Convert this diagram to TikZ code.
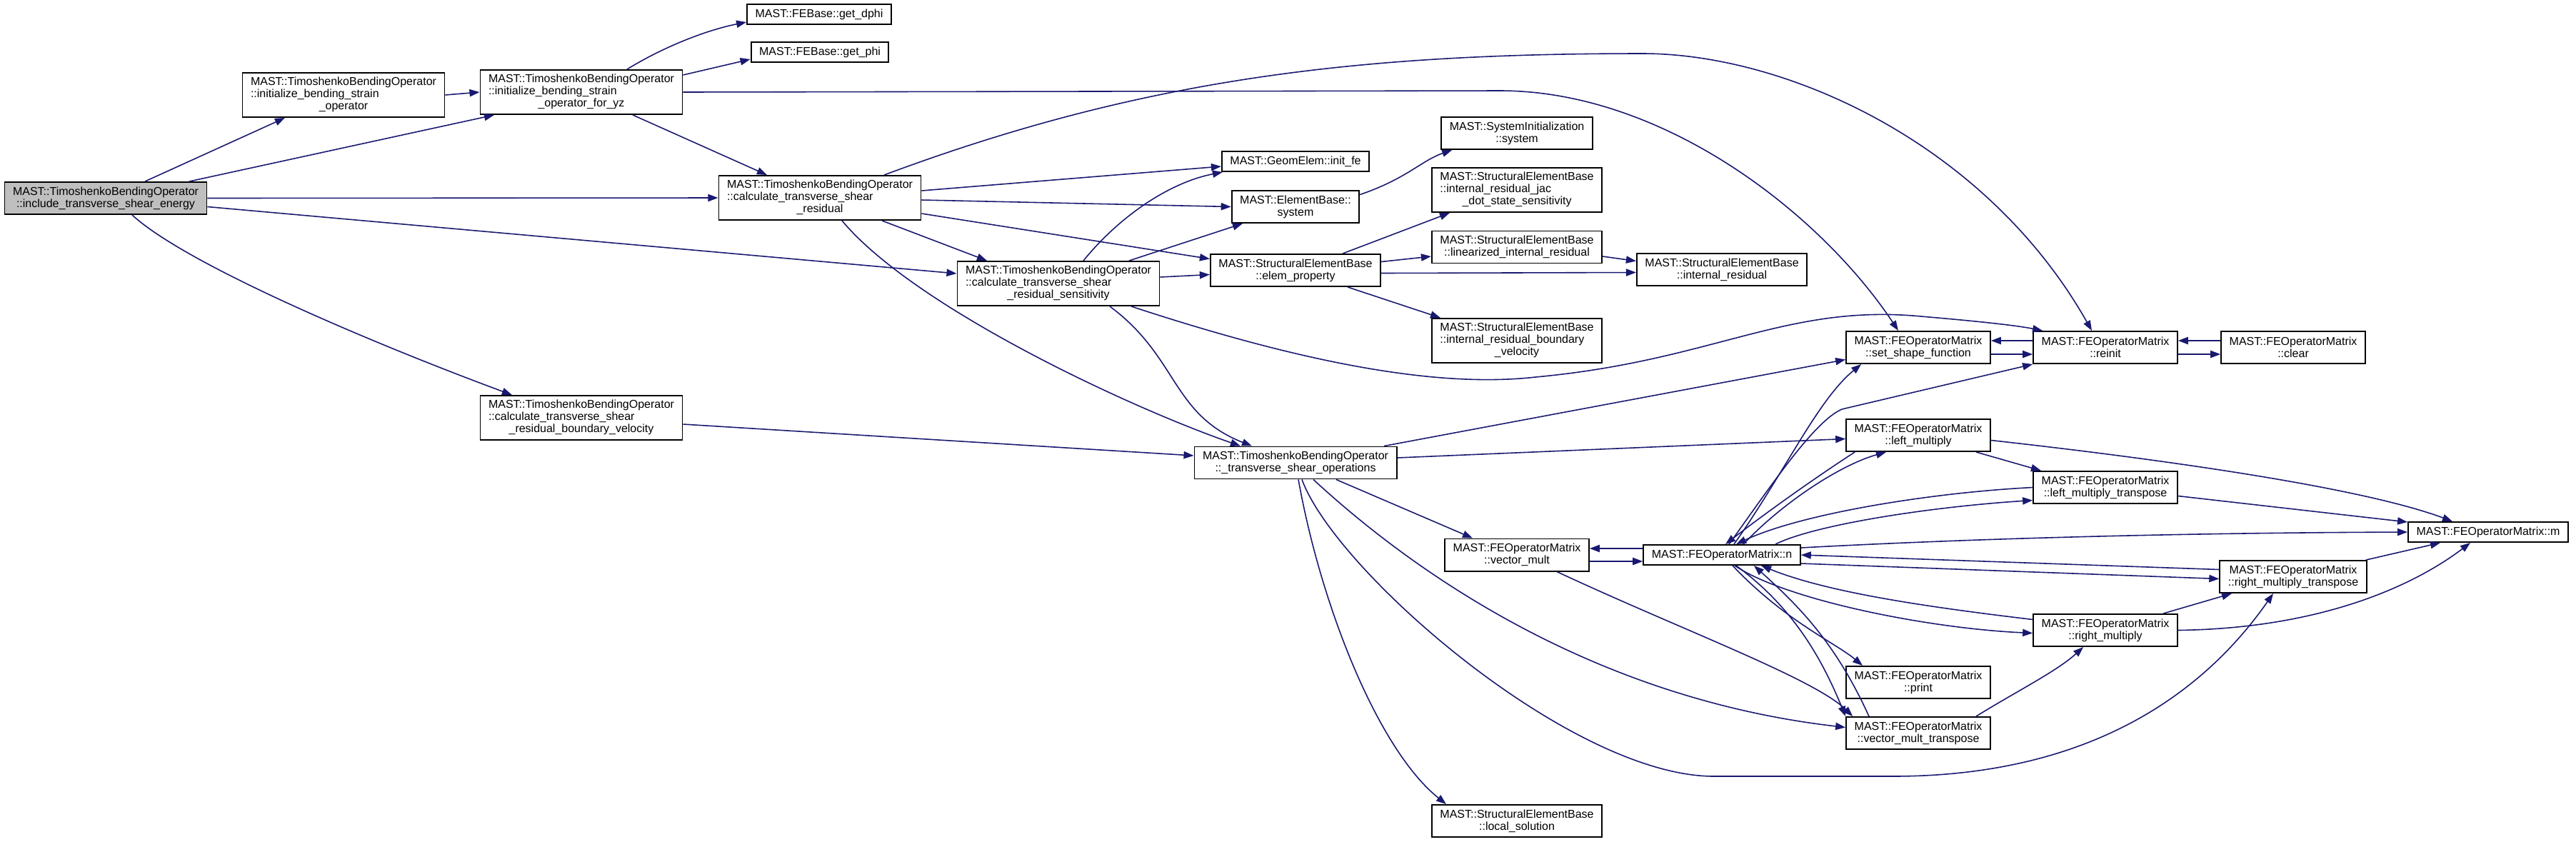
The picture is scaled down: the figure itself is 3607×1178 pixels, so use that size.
\documentclass[tikz,border=0pt]{standalone}
\usepackage{fontspec}
\setmainfont{Liberation Sans}
\usepackage{tikz}
\usetikzlibrary{calc,arrows.meta}
\definecolor{edgeblue}{HTML}{191970}
\definecolor{boxgrey}{HTML}{BFBFBF}
\newcommand{\tlbl}[3]{\begin{tabular}{@{}l@{}}#1\\#2\\\multicolumn{1}{@{}c@{}}{#3}\end{tabular}}

\begin{document}
\begin{tikzpicture}[x=0.01cm, y=-0.01cm,
  fn/.style={draw=black, line width=0.55pt, fill=white, inner xsep=0.115cm, inner ysep=0pt, align=center, font=\fontsize{4.55pt}{4.84pt}\selectfont},
  oneln/.style={fn, minimum height=0.28cm},
  twoln/.style={fn, minimum height=0.45cm},
  threeln/.style={fn, minimum height=0.62cm},
  call/.style={edgeblue, line width=0.45pt, -{Triangle[length=4pt,width=2.9pt]}}]
\useasboundingbox (0,0) rectangle (3607,1178);

\node[twoln, fill=boxgrey] (inc) at (148,277.5) {MAST::TimoshenkoBendingOperator\\::include\_transverse\_shear\_energy};
\node[threeln] (ibso) at (481,133) {\tlbl{MAST::TimoshenkoBendingOperator}{::initialize\_bending\_strain}{\_operator}};
\node[threeln] (ibsoyz) at (814,129) {\tlbl{MAST::TimoshenkoBendingOperator}{::initialize\_bending\_strain}{\_operator\_for\_yz}};
\node[oneln] (dphi) at (1147,20) {MAST::FEBase::get\_dphi};
\node[oneln] (phi) at (1148,73) {MAST::FEBase::get\_phi};
\node[threeln] (ctsr) at (1148,277) {\tlbl{MAST::TimoshenkoBendingOperator}{::calculate\_transverse\_shear}{\_residual}};
\node[threeln] (ctsrs) at (1482,397) {\tlbl{MAST::TimoshenkoBendingOperator}{::calculate\_transverse\_shear}{\_residual\_sensitivity}};
\node[threeln] (ctsrbv) at (814,585) {\tlbl{MAST::TimoshenkoBendingOperator}{::calculate\_transverse\_shear}{\_residual\_boundary\_velocity}};
\node[oneln] (initfe) at (1814,226) {MAST::GeomElem::init\_fe};
\node[twoln] (esys) at (1814,289.5) {MAST::ElementBase::\\system};
\node[twoln] (eprop) at (1814,378.5) {MAST::StructuralElementBase\\::elem\_property};
\node[twoln] (tso) at (1814,648) {MAST::TimoshenkoBendingOperator\\::\_transverse\_shear\_operations};
\node[twoln] (sisys) at (2124,186.5) {MAST::SystemInitialization\\::system};
\node[threeln] (irjac) at (2124,266) {\tlbl{MAST::StructuralElementBase}{::internal\_residual\_jac}{\_dot\_state\_sensitivity}};
\node[twoln] (lir) at (2124,346) {MAST::StructuralElementBase\\::linearized\_internal\_residual};
\node[threeln] (irbv) at (2124,477) {\tlbl{MAST::StructuralElementBase}{::internal\_residual\_boundary}{\_velocity}};
\node[twoln] (vmult) at (2124,777) {MAST::FEOperatorMatrix\\::vector\_mult};
\node[twoln] (locsol) at (2124,1149.5) {MAST::StructuralElementBase\\::local\_solution};
\node[twoln] (ir) at (2411,377.5) {MAST::StructuralElementBase\\::internal\_residual};
\node[oneln] (nop) at (2411,777) {MAST::FEOperatorMatrix::n};
\node[twoln] (ssf) at (2686,486.5) {MAST::FEOperatorMatrix\\::set\_shape\_function};
\node[twoln] (lmult) at (2686,609.5) {MAST::FEOperatorMatrix\\::left\_multiply};
\node[twoln] (prnt) at (2686,955.5) {MAST::FEOperatorMatrix\\::print};
\node[twoln] (vmultt) at (2686,1026.5) {MAST::FEOperatorMatrix\\::vector\_mult\_transpose};
\node[twoln] (reinit) at (2948,486.5) {MAST::FEOperatorMatrix\\::reinit};
\node[twoln] (lmultt) at (2948,682.5) {MAST::FEOperatorMatrix\\::left\_multiply\_transpose};
\node[twoln] (rmult) at (2948,882.5) {MAST::FEOperatorMatrix\\::right\_multiply};
\node[twoln] (clear) at (3211,486.5) {MAST::FEOperatorMatrix\\::clear};
\node[twoln] (rmultt) at (3211,807.5) {MAST::FEOperatorMatrix\\::right\_multiply\_transpose};
\node[oneln] (mop) at (3484,745) {MAST::FEOperatorMatrix::m};

% include_transverse_shear_energy
\draw[call] ($(inc.north)+(55,0)$) -- ($(ibso.south)+(-82,0)$);
\draw[call] ($(inc.north)+(117,0)$) -- ($(ibsoyz.south)+(-122,0)$);
\draw[call] (inc.east) -- (ctsr.west);
\draw[call] ($(inc.east)+(0,12)$) -- ($(ctsrs.west)+(0,-14)$);
\draw[call] ($(inc.south)+(37,0)$) .. controls (260,370) and (520,480) .. ($(ctsrbv.north)+(-97,0)$);

\draw[call] (ibso.east) -- (ibsoyz.west);
\draw[call] ($(ibsoyz.north)+(64,0)$) .. controls (930,65) and (990,42) .. ($(dphi.west)+(0,11)$);
\draw[call] ($(ibsoyz.east)+(0,-24)$) -- ($(phi.west)+(0,10)$);
\draw[call] ($(ibsoyz.south)+(72,0)$) -- ($(ctsr.north)+(-74,0)$);
\draw[call] (ibsoyz.east) -- (2100,127) .. controls (2330,127) and (2550,300) .. ($(ssf.north)+(-28,0)$);

% calculate_transverse_shear_residual
\draw[call] ($(ctsr.north)+(90,0)$) .. controls (1600,110) and (1900,75) .. (2300,75) .. controls (2500,75) and (2780,200) .. ($(reinit.north)+(-19,0)$);
\draw[call] ($(ctsr.east)+(0,-10)$) -- ($(initfe.west)+(0,7)$);
\draw[call] ($(ctsr.east)+(0,3)$) -- (esys.west);
\draw[call] ($(ctsr.east)+(0,22)$) -- ($(eprop.west)+(0,-16)$);
\draw[call] ($(ctsr.south)+(87,0)$) -- ($(ctsrs.north)+(-100,0)$);
\draw[call] ($(ctsr.south)+(31,0)$) .. controls (1280,430) and (1580,570) .. ($(tso.north)+(-77,0)$);

% calculate_transverse_shear_residual_sensitivity
\draw[call] ($(ctsrs.north)+(35,0)$) .. controls (1570,300) and (1640,255) .. ($(initfe.south west)+(2,0)$);
\draw[call] ($(ctsrs.north)+(99,0)$) -- ($(esys.south)+(-74,0)$);
\draw[call] ($(ctsrs.east)+(0,-9)$) -- ($(eprop.west)+(0,6)$);
\draw[call] ($(ctsrs.south)+(72,0)$) .. controls (1650,500) and (1640,580) .. ($(tso.north)+(-61,0)$);
\draw[call] ($(ctsrs.south)+(102,0)$) .. controls (1800,500) and (2000,545) .. (2150,528) .. controls (2400,505) and (2500,425) .. (2690,443) .. controls (2760,449) and (2820,455) .. ($(reinit.north west)+(14,0)$);

\draw[call] ($(ctsrbv.east)+(0,9)$) -- ($(tso.west)+(0,-10)$);

\draw[call] ($(esys.east)+(0,-17)$) .. controls (1970,250) and (1990,225) .. ($(sisys.south west)+(16,0)$);

% elem_property
\draw[call] ($(eprop.north)+(66,0)$) -- ($(irjac.south)+(-94,0)$);
\draw[call] ($(eprop.east)+(0,-12)$) -- ($(lir.west)+(0,13)$);
\draw[call] ($(eprop.east)+(0,4)$) -- ($(ir.west)+(0,4)$);
\draw[call] ($(eprop.south)+(73,0)$) -- ($(irbv.north)+(-107,0)$);
\draw[call] ($(lir.east)+(0,13)$) -- ($(ir.west)+(0,-12)$);

% _transverse_shear_operations
\draw[call] ($(tso.north)+(124,0)$) -- ($(ssf.west)+(0,17)$);
\draw[call] ($(tso.east)+(0,-7)$) -- ($(lmult.west)+(0,5)$);
\draw[call] ($(tso.south)+(57,0)$) -- ($(vmult.north)+(-62,0)$);
\draw[call] ($(tso.south)+(4,0)$) .. controls (1850,850) and (1930,1050) .. ($(locsol.north)+(-99,0)$);
\draw[call] ($(tso.south)+(9,0)$) .. controls (1870,800) and (2200,1087) .. (2400,1087) -- (2650,1087) .. controls (2950,1087) and (3100,950) .. ($(rmultt.south)+(-28,0)$);
\draw[call] ($(tso.south)+(25,0)$) .. controls (2000,820) and (2250,980) .. ($(vmultt.west)+(0,-8)$);

\draw[call] ($(vmult.east)+(0,9)$) -- ($(nop.west)+(0,9)$);
\draw[call] ($(vmult.south)+(56,0)$) .. controls (2350,880) and (2540,950) .. ($(vmultt.north west)+(10,0)$);

% FEOperatorMatrix::n
\draw[call] ($(nop.west)+(0,-9)$) -- ($(vmult.east)+(0,-9)$);
\draw[call] ($(nop.north)+(17,0)$) .. controls (2500,660) and (2545,560) .. ($(ssf.south west)+(22,0)$);
\draw[call] ($(nop.north)+(10,0)$) .. controls (2480,680) and (2540,590) .. (2579,573) -- (reinit.south west);
\draw[call] ($(nop.north)+(30,0)$) .. controls (2500,700) and (2580,650) .. ($(lmult.south)+(-45,0)$);
\draw[call] ($(nop.north)+(75,0)$) .. controls (2540,735) and (2700,710) .. ($(lmultt.west)+(0,18)$);
\draw[call] ($(nop.east)+(0,-10)$) .. controls (2800,752) and (3100,746) .. (mop.west);
\draw[call] ($(nop.east)+(0,12)$) -- ($(rmultt.west)+(0,3)$);
\draw[call] ($(nop.south)+(18,0)$) .. controls (2500,840) and (2700,880) .. ($(rmult.west)+(0,4)$);
\draw[call] ($(nop.south)+(15,0)$) .. controls (2500,870) and (2570,900) .. ($(prnt.north)+(-78,0)$);
\draw[call] ($(nop.south)+(20,0)$) .. controls (2510,850) and (2550,920) .. (vmultt.north west);

\draw[call] ($(lmult.south west)+(13,0)$) .. controls (2540,670) and (2470,720) .. ($(nop.north)+(5,0)$);
\draw[call] ($(lmult.south)+(81,0)$) -- ($(lmultt.north)+(-90,0)$);
\draw[call] ($(lmult.east)+(0,7)$) .. controls (3000,640) and (3300,680) .. ($(mop.north)+(-50,0)$);
\draw[call] (lmultt.west) .. controls (2700,690) and (2520,720) .. ($(nop.north)+(20,0)$);
\draw[call] ($(lmultt.east)+(0,12)$) -- ($(mop.west)+(0,-14)$);

\draw[call] ($(rmult.west)+(0,-15)$) .. controls (2700,850) and (2560,830) .. ($(nop.south)+(55,0)$);
\draw[call] ($(rmult.north)+(81,0)$) -- ($(rmultt.south)+(-86,0)$);
\draw[call] (rmult.east) .. controls (3250,880) and (3380,820) .. ($(mop.south)+(-25,0)$);
\draw[call] ($(rmultt.west)+(0,-10)$) -- (nop.east);
\draw[call] ($(rmultt.north)+(102,0)$) -- ($(mop.south)+(-67,0)$);

\draw[call] ($(vmultt.north)+(-69,0)$) .. controls (2570,900) and (2520,850) .. ($(nop.south)+(45,0)$);
\draw[call] ($(vmultt.north)+(81,0)$) .. controls (2820,970) and (2880,940) .. ($(rmult.south)+(-31,0)$);

\draw[call] ($(ssf.east)+(0,9.5)$) -- ($(reinit.west)+(0,9.5)$);
\draw[call] ($(reinit.west)+(0,-9.5)$) -- ($(ssf.east)+(0,-9.5)$);
\draw[call] ($(reinit.east)+(0,9.5)$) -- ($(clear.west)+(0,9.5)$);
\draw[call] ($(clear.west)+(0,-9.5)$) -- ($(reinit.east)+(0,-9.5)$);

\end{tikzpicture}
\end{document}
